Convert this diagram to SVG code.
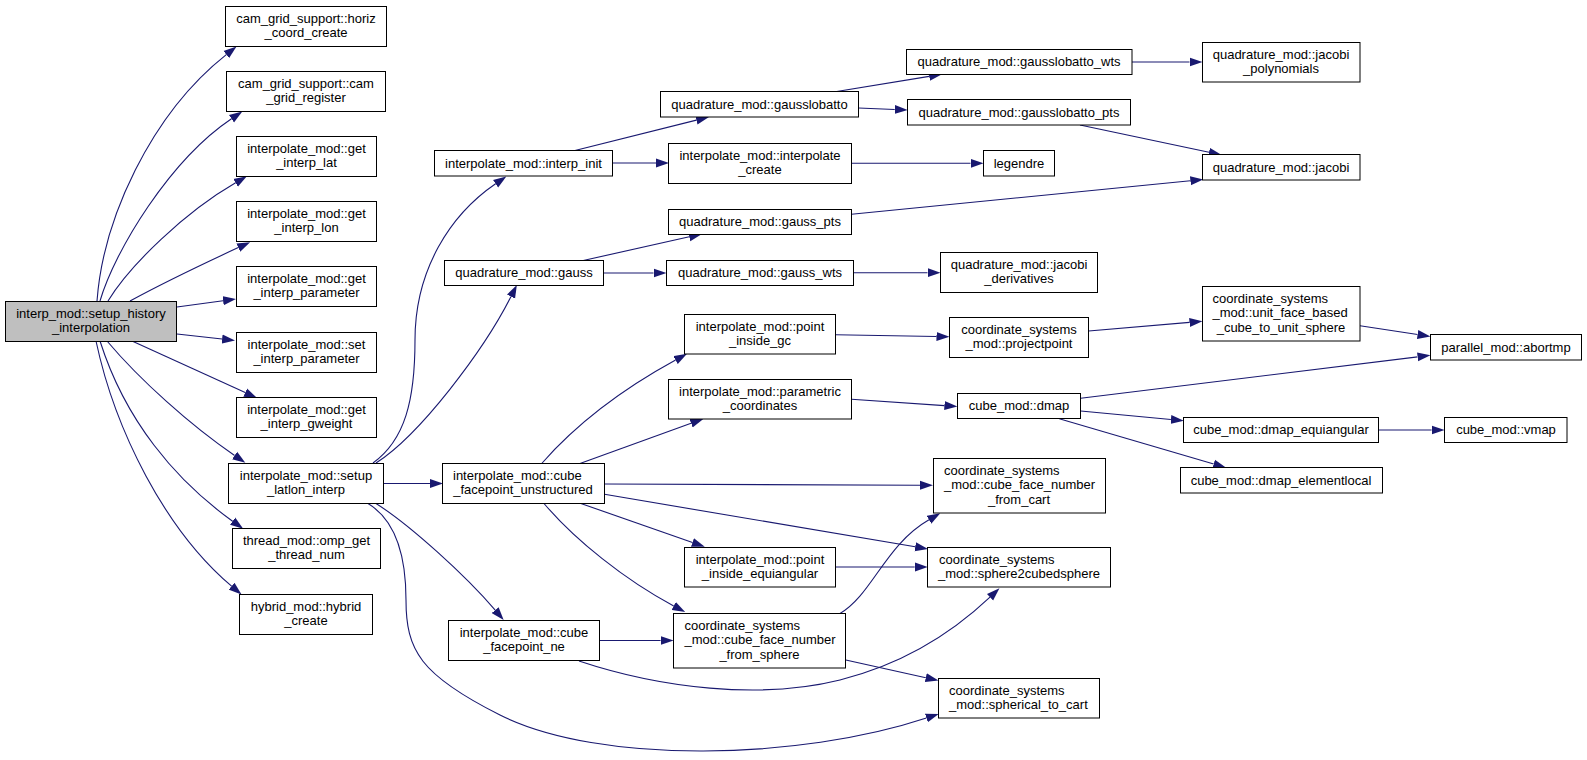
<svg xmlns="http://www.w3.org/2000/svg" width="1587" height="760" viewBox="0 0 1587 760">
<style>
.node rect{fill:#ffffff;stroke:#000000;stroke-width:1}
.node.root rect{fill:#bfbfbf}
.node text{font-family:"Liberation Sans",Arial,Helvetica,sans-serif;font-size:13px;fill:#000000}
.c{text-anchor:middle}
.l{text-anchor:start}
.edges path{fill:none;stroke:#191970;stroke-width:1.1}
</style>
<defs>
<marker id="ah" markerWidth="13" markerHeight="10" refX="0" refY="5" orient="auto" markerUnits="userSpaceOnUse" viewBox="0 0 13 10"><path d="M0,0.5 L13,5 L0,9.5 z" fill="#191970"/></marker>
</defs>
<rect width="1587" height="760" fill="#ffffff"/>
<g class="edges" marker-end="url(#ah)">
<path d="M97,301 C103,220 150,115 226.3,54.6" marker-end="url(#ah)"/>
<path d="M100,301 C115,250 170,160 231.5,118.7" marker-end="url(#ah)"/>
<path d="M108,301 C130,265 185,212 235.6,182.8" marker-end="url(#ah)"/>
<path d="M130,301 C165,282 205,263 238.3,247.6" marker-end="url(#ah)"/>
<path d="M177,307 L223.1,300.7" marker-end="url(#ah)"/>
<path d="M177,334 L222.1,339" marker-end="url(#ah)"/>
<path d="M132,341 L245.2,392.6" marker-end="url(#ah)"/>
<path d="M107,341 C140,380 190,425 234.6,455.5" marker-end="url(#ah)"/>
<path d="M100,341 C125,420 175,480 232.6,521.2" marker-end="url(#ah)"/>
<path d="M96,341 C115,430 165,530 231.6,586.2" marker-end="url(#ah)"/>
<path d="M373,463 C405,440 415,400 415,340 C415,270 450,215 495.6,183.8" marker-end="url(#ah)"/>
<path d="M376,463 C420,435 484,350 511,296.6" marker-end="url(#ah)"/>
<path d="M383.5,483.5 L430,483.5" marker-end="url(#ah)"/>
<path d="M376,503.5 C410,525 465,575 495.2,610.1" marker-end="url(#ah)"/>
<path d="M368,503.5 C392,518 406,550 406,600 C406,650 420,675 500,715 C600,765 800,760 926.4,718.1" marker-end="url(#ah)"/>
<path d="M575,150.5 L696.4,120.1" marker-end="url(#ah)"/>
<path d="M612.5,163 L656,163" marker-end="url(#ah)"/>
<path d="M836.7,91.5 L929.2,76.4" marker-end="url(#ah)"/>
<path d="M858.5,108 L894.7,109.5" marker-end="url(#ah)"/>
<path d="M1132,62 L1189.5,62" marker-end="url(#ah)"/>
<path d="M1080,125 L1209,152.3" marker-end="url(#ah)"/>
<path d="M851.5,163.3 L970.5,163.3" marker-end="url(#ah)"/>
<path d="M851.5,214.3 L1190.4,180.7" marker-end="url(#ah)"/>
<path d="M583.3,260.5 L689.3,236.8" marker-end="url(#ah)"/>
<path d="M603.5,273 L653.5,273" marker-end="url(#ah)"/>
<path d="M853.5,272.7 L927.5,272.7" marker-end="url(#ah)"/>
<path d="M541.7,463.5 C580,420 630,385 675.6,360.1" marker-end="url(#ah)"/>
<path d="M580,463.5 L691.1,423.3" marker-end="url(#ah)"/>
<path d="M604.5,484 L920,485.3" marker-end="url(#ah)"/>
<path d="M604.5,494.3 L915.2,546.8" marker-end="url(#ah)"/>
<path d="M580.9,503.5 L692.5,542.4" marker-end="url(#ah)"/>
<path d="M544,503.5 C575,540 625,580 673.7,606" marker-end="url(#ah)"/>
<path d="M599.5,640.5 L660.6,640.5" marker-end="url(#ah)"/>
<path d="M579,661 C660,688 760,700 840,680 C900,665 950,635 990,597.2" marker-end="url(#ah)"/>
<path d="M835.5,334.7 L936.5,336.5" marker-end="url(#ah)"/>
<path d="M851.5,399.3 L944.4,405.6" marker-end="url(#ah)"/>
<path d="M1088.6,331 L1189.5,322.4" marker-end="url(#ah)"/>
<path d="M1360,325.7 L1417.6,334.5" marker-end="url(#ah)"/>
<path d="M1080.7,398.3 L1417.6,356.9" marker-end="url(#ah)"/>
<path d="M1080.7,411 L1170.9,419.5" marker-end="url(#ah)"/>
<path d="M1059.3,418.7 L1213.7,464" marker-end="url(#ah)"/>
<path d="M1378.5,430 L1431.6,430" marker-end="url(#ah)"/>
<path d="M835.5,567 L914.7,567" marker-end="url(#ah)"/>
<path d="M840,613.5 C872,595 885,545 929,519.8" marker-end="url(#ah)"/>
<path d="M845.8,660 L925.8,677.7" marker-end="url(#ah)"/>
</g>
<g id="node_root" class="node root"><rect x="5.5" y="301.5" width="171" height="40"/><text class="c" x="91" y="317.5">interp_mod::setup_history</text><text class="c" x="91" y="332">_interpolation</text></g>
<g id="node_horiz_coord_create" class="node"><rect x="225.5" y="6.5" width="161" height="40"/><text class="c" x="306" y="22.5">cam_grid_support::horiz</text><text class="c" x="306" y="37">_coord_create</text></g>
<g id="node_cam_grid_register" class="node"><rect x="226.5" y="71.5" width="159" height="40"/><text class="c" x="306" y="87.5">cam_grid_support::cam</text><text class="c" x="306" y="102">_grid_register</text></g>
<g id="node_get_interp_lat" class="node"><rect x="236.5" y="136.5" width="140" height="40"/><text class="c" x="306.5" y="152.5">interpolate_mod::get</text><text class="c" x="306.5" y="167">_interp_lat</text></g>
<g id="node_get_interp_lon" class="node"><rect x="236.5" y="201.5" width="140" height="40"/><text class="c" x="306.5" y="217.5">interpolate_mod::get</text><text class="c" x="306.5" y="232">_interp_lon</text></g>
<g id="node_get_interp_parameter" class="node"><rect x="236.5" y="266.5" width="140" height="40"/><text class="c" x="306.5" y="282.5">interpolate_mod::get</text><text class="c" x="306.5" y="297">_interp_parameter</text></g>
<g id="node_set_interp_parameter" class="node"><rect x="236.5" y="332.5" width="140" height="40"/><text class="c" x="306.5" y="348.5">interpolate_mod::set</text><text class="c" x="306.5" y="363">_interp_parameter</text></g>
<g id="node_get_interp_gweight" class="node"><rect x="236.5" y="397.5" width="140" height="40"/><text class="c" x="306.5" y="413.5">interpolate_mod::get</text><text class="c" x="306.5" y="428">_interp_gweight</text></g>
<g id="node_setup_latlon_interp" class="node"><rect x="228.5" y="463.5" width="155" height="40"/><text class="c" x="306" y="479.5">interpolate_mod::setup</text><text class="c" x="306" y="494">_latlon_interp</text></g>
<g id="node_omp_get_thread_num" class="node"><rect x="232.5" y="528.5" width="148" height="40"/><text class="c" x="306.5" y="544.5">thread_mod::omp_get</text><text class="c" x="306.5" y="559">_thread_num</text></g>
<g id="node_hybrid_create" class="node"><rect x="239.5" y="594.5" width="133" height="40"/><text class="c" x="306" y="610.5">hybrid_mod::hybrid</text><text class="c" x="306" y="625">_create</text></g>
<g id="node_interp_init" class="node"><rect x="434.5" y="150.5" width="178" height="25.5"/><text class="c" x="523.5" y="167.5">interpolate_mod::interp_init</text></g>
<g id="node_gauss" class="node"><rect x="444.5" y="260.5" width="159" height="25"/><text class="c" x="524" y="277">quadrature_mod::gauss</text></g>
<g id="node_cube_facepoint_unstructured" class="node"><rect x="442.5" y="463.5" width="162" height="40"/><text class="l" x="453" y="479.5">interpolate_mod::cube</text><text class="c" x="523" y="494">_facepoint_unstructured</text></g>
<g id="node_cube_facepoint_ne" class="node"><rect x="448.5" y="620.5" width="151" height="40"/><text class="c" x="524" y="636.5">interpolate_mod::cube</text><text class="c" x="524" y="651">_facepoint_ne</text></g>
<g id="node_gausslobatto" class="node"><rect x="660.5" y="91.5" width="198" height="25.5"/><text class="c" x="759.5" y="108.5">quadrature_mod::gausslobatto</text></g>
<g id="node_interpolate_create" class="node"><rect x="668.5" y="143.5" width="183" height="40"/><text class="c" x="760" y="159.5">interpolate_mod::interpolate</text><text class="c" x="760" y="174">_create</text></g>
<g id="node_gauss_pts" class="node"><rect x="668.5" y="209.5" width="183" height="25"/><text class="c" x="760" y="226">quadrature_mod::gauss_pts</text></g>
<g id="node_gauss_wts" class="node"><rect x="666.5" y="260.5" width="187" height="25"/><text class="c" x="760" y="277">quadrature_mod::gauss_wts</text></g>
<g id="node_point_inside_gc" class="node"><rect x="684.5" y="314.5" width="151" height="39.5"/><text class="c" x="760" y="330.5">interpolate_mod::point</text><text class="c" x="760" y="345">_inside_gc</text></g>
<g id="node_parametric_coordinates" class="node"><rect x="668.5" y="379.5" width="183" height="39.5"/><text class="c" x="760" y="395.5">interpolate_mod::parametric</text><text class="c" x="760" y="410">_coordinates</text></g>
<g id="node_point_inside_equiangular" class="node"><rect x="684.5" y="547.5" width="151" height="39.5"/><text class="c" x="760" y="563.5">interpolate_mod::point</text><text class="c" x="760" y="578">_inside_equiangular</text></g>
<g id="node_cube_face_number_from_sphere" class="node"><rect x="673.5" y="613.5" width="172" height="54.5"/><text class="l" x="684.5" y="629.5">coordinate_systems</text><text class="l" x="684.5" y="644">_mod::cube_face_number</text><text class="c" x="759.5" y="658.5">_from_sphere</text></g>
<g id="node_gausslobatto_wts" class="node"><rect x="906.5" y="49.5" width="225.5" height="25"/><text class="c" x="1019" y="66">quadrature_mod::gausslobatto_wts</text></g>
<g id="node_gausslobatto_pts" class="node"><rect x="907.5" y="99.5" width="223" height="25.5"/><text class="c" x="1019" y="116.5">quadrature_mod::gausslobatto_pts</text></g>
<g id="node_legendre" class="node"><rect x="983.5" y="150.5" width="71" height="25.5"/><text class="c" x="1019" y="167.5">legendre</text></g>
<g id="node_jacobi_derivatives" class="node"><rect x="940.5" y="252.5" width="157" height="40"/><text class="c" x="1019" y="268.5">quadrature_mod::jacobi</text><text class="c" x="1019" y="283">_derivatives</text></g>
<g id="node_projectpoint" class="node"><rect x="949.5" y="317.5" width="139" height="40"/><text class="c" x="1019" y="333.5">coordinate_systems</text><text class="c" x="1019" y="348">_mod::projectpoint</text></g>
<g id="node_dmap" class="node"><rect x="957.5" y="393.5" width="123" height="25"/><text class="c" x="1019" y="410">cube_mod::dmap</text></g>
<g id="node_cube_face_number_from_cart" class="node"><rect x="933.5" y="458.5" width="172" height="54.5"/><text class="l" x="944" y="474.5">coordinate_systems</text><text class="l" x="944" y="489">_mod::cube_face_number</text><text class="c" x="1019" y="503.5">_from_cart</text></g>
<g id="node_sphere2cubedsphere" class="node"><rect x="927.5" y="547.5" width="183" height="39.5"/><text class="l" x="939" y="563.5">coordinate_systems</text><text class="c" x="1019" y="578">_mod::sphere2cubedsphere</text></g>
<g id="node_spherical_to_cart" class="node"><rect x="938.5" y="678.5" width="161" height="39.5"/><text class="l" x="949" y="694.5">coordinate_systems</text><text class="l" x="949" y="709">_mod::spherical_to_cart</text></g>
<g id="node_jacobi_polynomials" class="node"><rect x="1202.5" y="42.5" width="157.5" height="39.5"/><text class="c" x="1281" y="58.5">quadrature_mod::jacobi</text><text class="c" x="1281" y="73">_polynomials</text></g>
<g id="node_jacobi" class="node"><rect x="1202.5" y="154.5" width="157.5" height="25.5"/><text class="c" x="1281" y="171.5">quadrature_mod::jacobi</text></g>
<g id="node_unit_face_based_cube_to_unit_sphere" class="node"><rect x="1202.5" y="286.5" width="157.5" height="54.5"/><text class="l" x="1212.5" y="302.5">coordinate_systems</text><text class="l" x="1212.5" y="317">_mod::unit_face_based</text><text class="c" x="1281" y="331.5">_cube_to_unit_sphere</text></g>
<g id="node_dmap_equiangular" class="node"><rect x="1183.5" y="417.5" width="195" height="25"/><text class="c" x="1281" y="434">cube_mod::dmap_equiangular</text></g>
<g id="node_dmap_elementlocal" class="node"><rect x="1180.5" y="467.5" width="202" height="25.5"/><text class="c" x="1281" y="484.5">cube_mod::dmap_elementlocal</text></g>
<g id="node_abortmp" class="node"><rect x="1430.5" y="334.5" width="151" height="25.5"/><text class="c" x="1506" y="351.5">parallel_mod::abortmp</text></g>
<g id="node_vmap" class="node"><rect x="1444.5" y="417.5" width="122.5" height="25"/><text class="c" x="1506" y="434">cube_mod::vmap</text></g>
</svg>
